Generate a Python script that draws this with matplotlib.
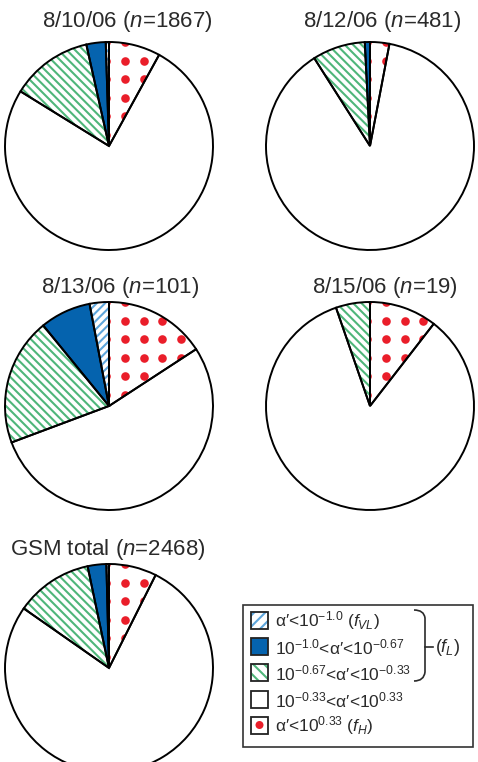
import matplotlib
matplotlib.use('Agg')
import matplotlib.pyplot as plt
from matplotlib.patches import Wedge, Rectangle, Circle, PathPatch
from matplotlib.path import Path
import numpy as np

plt.rcParams['font.family'] = ['Liberation Sans', 'DejaVu Sans']
plt.rcParams['mathtext.fontset'] = 'custom'
plt.rcParams['mathtext.rm'] = 'Liberation Sans'
plt.rcParams['mathtext.it'] = 'Liberation Sans:italic'
plt.rcParams['mathtext.bf'] = 'Liberation Sans:bold'
plt.rcParams['hatch.linewidth'] = 1.5

# ---------------- data (percent of each population) ----------------
titles = ['8/10/06', '8/12/06', '8/13/06', '8/15/06', 'GSM total']
n_values = [1867, 481, 101, 19, 2468]
frac_vl = [0.5, 0.0, 3.0, 0.0, 0.4]      # a' < 10^-1.0 (f_VL)
frac_l1 = [3.0, 0.8, 7.9, 0.0, 2.9]      # 10^-1.0 < a' < 10^-0.67
frac_l2 = [12.7, 8.2, 19.8, 5.3, 12.0]   # 10^-0.67 < a' < 10^-0.33
frac_mid = [75.8, 88.0, 53.5, 84.2, 77.3]  # 10^-0.33 < a' < 10^0.33
frac_h = [8.0, 3.0, 15.8, 10.5, 7.4]     # a' > 10^0.33 (f_H)
legend_labels = [
    "α′<10$^{-1.0}$ ($f_{VL}$)",
    "10$^{-1.0}$<α′<10$^{-0.67}$",
    "10$^{-0.67}$<α′<10$^{-0.33}$",
    "10$^{-0.33}$<α′<10$^{0.33}$",
    "α′<10$^{0.33}$ ($f_H$)",
]

# ---------------- styles / layout ----------------
W, H = 478, 762
DPI = 100
R = 104
PAD = 1.03
BLUE = '#0563ae'
GREEN = '#4fb67a'
LBLUE = '#5ea6dc'
RED = '#ea1e2a'
TXT = '#2a2a2a'
face_colors = ['white', BLUE, 'white', 'white', 'white']
hatches = ['////', None, '\\\\\\\\', None, None]
hatch_colors = [LBLUE, None, GREEN, None, None]
centers = [(109, 146), (370, 146), (109, 406), (370, 406), (109, 668)]
title_pos = [(127, 21), (382, 21), (120, 288), (385, 287), (108, 550)]
LW = 1.4

fig = plt.figure(figsize=(W / DPI, H / DPI), dpi=DPI)

dot_s = (8.6 * 72 / DPI) ** 2

for i in range(5):
    cx, cy = centers[i]
    half = R * PAD
    ax = fig.add_axes([(cx - half) / W, (H - cy - half) / H, 2 * half / W, 2 * half / H])
    vals = [frac_vl[i], frac_l1[i], frac_l2[i], frac_mid[i], frac_h[i]]
    wedges, _ = ax.pie(vals, colors=face_colors, startangle=90, counterclock=True,
                       wedgeprops=dict(edgecolor='none', linewidth=0), radius=1)
    ax.set_xlim(-PAD, PAD)
    ax.set_ylim(-PAD, PAD)
    ax.set_aspect('equal')
    ax.axis('off')
    for w, h, hc in zip(wedges, hatches, hatch_colors):
        if h and (w.theta2 - w.theta1) > 0:
            ax.add_patch(Wedge(w.center, w.r, w.theta1, w.theta2, facecolor='none',
                               edgecolor=hc, hatch=h, linewidth=0, zorder=2))
    # red dots clipped to the f_H wedge
    red = wedges[4]
    gx = 0.154 + 0.180 * np.arange(-6, 6)
    gy = 0.106 + 0.178 * np.arange(-6, 6)
    XX, YY = np.meshgrid(gx, gy)
    coll = ax.scatter(XX.ravel(), YY.ravel(), s=dot_s, color=RED, linewidths=0, zorder=3)
    coll.set_clip_path(red)
    for w in wedges:
        ax.add_patch(Wedge(w.center, w.r, w.theta1, w.theta2, facecolor='none',
                           edgecolor='black', linewidth=LW, zorder=4, joinstyle='miter'))

# overlay in pixel coordinates for titles and legend
ov = fig.add_axes([0, 0, 1, 1])
ov.set_xlim(0, W)
ov.set_ylim(H, 0)
ov.axis('off')

for i in range(5):
    x, y = title_pos[i]
    ov.text(x, y, f"{titles[i]} ($n$={n_values[i]})", ha='center', va='center',
            fontsize=16, color=TXT)

# legend box
ov.add_patch(Rectangle((243, 605), 230, 142, facecolor='white', edgecolor='#333333', linewidth=1.2))
row_y = [620, 646, 672, 699, 725]
SQ = 17
for j in range(5):
    y = row_y[j]
    x0 = 251
    ov.add_patch(Rectangle((x0, y - SQ / 2), SQ, SQ, facecolor=face_colors[j], edgecolor='none'))
    if hatches[j]:
        ov.add_patch(Rectangle((x0, y - SQ / 2), SQ, SQ, facecolor='none', edgecolor=hatch_colors[j],
                               hatch=hatches[j][:3], linewidth=0))
    if j == 4:
        ov.add_patch(Circle((x0 + SQ / 2, y), 4.0, facecolor=RED, edgecolor='none'))
    ov.add_patch(Rectangle((x0, y - SQ / 2), SQ, SQ, facecolor='none', edgecolor='#222222', linewidth=1.3))
    ov.text(275, y + 1, legend_labels[j], ha='left', va='center', fontsize=12.5, color=TXT)

# brace for (f_L)
verts = [(414, 610), (424, 610), (425, 618), (425, 672), (424, 681), (414, 681)]
codes = [Path.MOVETO, Path.CURVE3, Path.CURVE3, Path.LINETO, Path.CURVE3, Path.CURVE3]
ov.add_patch(PathPatch(Path(verts, codes), facecolor='none', edgecolor=TXT, linewidth=1.2))
ov.plot([425, 433], [647, 647], color=TXT, linewidth=1.2)
ov.text(435, 647, "($f_L$)", ha='left', va='center', fontsize=13, color=TXT)

fig.savefig('out.png', dpi=DPI)
